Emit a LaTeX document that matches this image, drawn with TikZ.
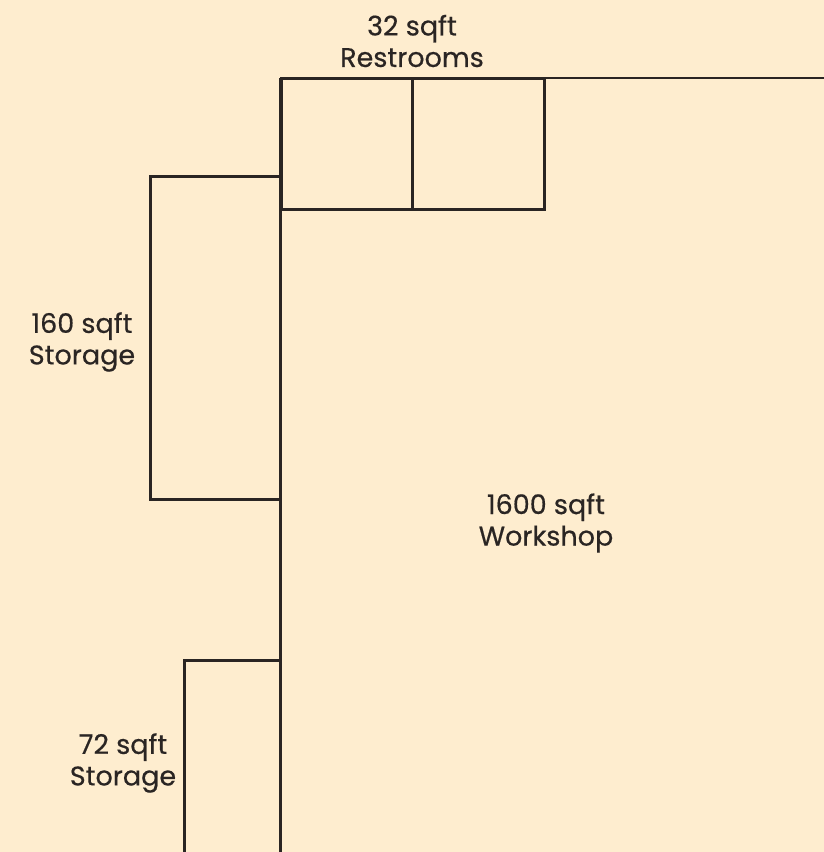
\documentclass[tikz,border=0pt]{standalone}
\usepackage{fontspec}
\setmainfont{Poppins}[FakeBold=0.5]
\definecolor{bg}{HTML}{FEEDCF}
\definecolor{ink}{HTML}{2A2523}
\begin{document}
\begin{tikzpicture}[x=1pt,y=-1pt,
  wall/.style={draw=ink,line width=3.0pt},
  lbl/.style={text=ink,align=center,inner sep=0pt,font=\fontsize{27}{31.5}\selectfont}]
\fill[bg] (0,0) rectangle (824,852);
\useasboundingbox (0,0) rectangle (824,852);
\begin{scope}
\clip (0,0) rectangle (824,852);
% workshop walls
\draw[wall,line width=2.8pt] (824,78) -- (280,78);
\draw[wall] (280,78) -- (280,856);
% restrooms
\draw[wall] (281,78) rectangle (412,209);
\draw[wall] (412,78) rectangle (544,209);
% storage 160
\draw[wall] (280,176) -- (150,176) -- (150,499) -- (280,499);
% storage 72
\draw[wall] (280,660) -- (184,660) -- (184,856);
\end{scope}
\node[lbl] (rest) at (412,41) {32 sqft\\Restrooms};
\node[lbl] (st1) at (82,342) {160 sqft\\Storage};
\node[lbl] (work) at (546,523) {1600 sqft\\Workshop};
\node[lbl] (st2) at (123,763) {72 sqft\\Storage};
\end{tikzpicture}
\end{document}
